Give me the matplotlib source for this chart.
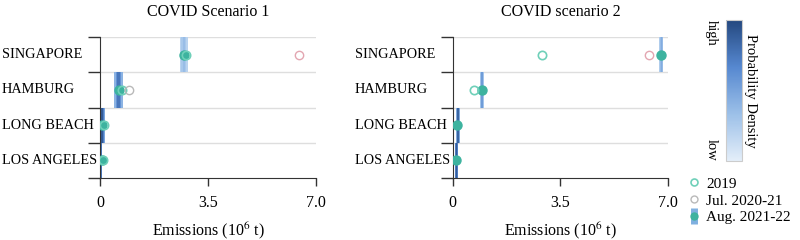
import numpy as np
import matplotlib
matplotlib.use('Agg')
import matplotlib.pyplot as plt
from matplotlib.colors import LinearSegmentedColormap, Normalize
from matplotlib.lines import Line2D
from matplotlib.colorbar import ColorbarBase

plt.rcParams['font.family'] = ['Liberation Serif', 'DejaVu Serif']
plt.rcParams['mathtext.fontset'] = 'stix'

nan = np.nan
ports = ['SINGAPORE', 'HAMBURG', 'LONG BEACH', 'LOS ANGELES']
titles = ['COVID Scenario 1', 'COVID scenario 2']
xticks = [0, 3.5, 7.0]
xticklabels = ['0', '3.5', '7.0']

# scenario 1
s1_2019 = [2.80, 0.70, 0.12, 0.10]
s1_jul = [6.45, 0.95, nan, nan]
s1_aug = [2.72, 0.60, 0.07, 0.05]
s1_strip_center = [2.72, 0.60, 0.07, 0.03]
s1_strip_half = [0.12, 0.14, 0.08, 0.04]
s1_strip_level = [0.35, 0.75, 0.9, 0.95]

# scenario 2
s2_2019 = [2.89, 0.68, nan, nan]
s2_jul = [6.39, nan, nan, nan]
s2_aug = [6.77, 0.95, 0.13, 0.11]
s2_strip_center = [6.78, 0.95, 0.17, 0.12]
s2_strip_half = [0.07, 0.07, 0.07, 0.05]
s2_strip_level = [0.45, 0.55, 0.85, 0.9]

cmap = LinearSegmentedColormap.from_list('pd', ['#e4eef9', '#9cc0e8', '#5688d0', '#24487f'])
teal = '#3db39f'
teal_light = '#6fd0b9'
pink = '#e3a6b1'
gray = '#b9b9b9'

fig = plt.figure(figsize=(8, 2.4), dpi=100)
axes = [fig.add_axes([0.125, 0.258, 0.27, 0.588]),
        fig.add_axes([0.566, 0.258, 0.269, 0.588])]

scen = [
    (s1_2019, s1_jul, s1_aug, s1_strip_center, s1_strip_half, s1_strip_level, [pink, gray, gray, gray]),
    (s2_2019, s2_jul, s2_aug, s2_strip_center, s2_strip_half, s2_strip_level, [pink, gray, gray, gray]),
]

ypos = np.arange(len(ports))[::-1]

for ax, title, (v19, vjul, vaug, sc, sh, sl, julc) in zip(axes, titles, scen):
    # density strips: nested rectangles, darker towards the centre
    for y, c, h, lv in zip(ypos, sc, sh, sl):
        for frac, k in [(1.0, 0.55), (0.66, 0.8), (0.33, 1.0)]:
            ax.barh(y, 2 * h * frac, left=c - h * frac, height=1.0,
                    color=cmap(lv * k), linewidth=0, zorder=2)
    ax.plot(vaug, ypos, 'o', color=teal, markersize=6.5, zorder=4)
    ax.plot(v19, ypos, 'o', mfc='none', mec=teal_light, mew=1.2, markersize=6, zorder=5)
    for y, v, c in zip(ypos, vjul, julc):
        ax.plot(v, y, 'o', mfc='none', mec=c, mew=1.0, markersize=6, zorder=5)

    ax.set_xlim(0, 7.0)
    ax.set_ylim(-0.5, 3.5)
    ax.set_xticks(xticks)
    ax.set_xticklabels(xticklabels, fontsize=11.5)
    ax.set_yticks([-0.5, 0.5, 1.5, 2.5, 3.5])
    ax.set_yticklabels([])
    ax.tick_params(axis='y', length=9, width=1, color='#333333')
    ax.tick_params(axis='x', length=6, width=1, color='#333333', pad=6)
    for yb in [0.5, 1.5, 2.5, 3.5]:
        ax.axhline(yb, color='#dedede', lw=1, zorder=1)
    for sp in ['top', 'right']:
        ax.spines[sp].set_visible(False)
    ax.spines['left'].set_color('#333333')
    ax.spines['bottom'].set_color('#333333')
    for y, name in zip(ypos, ports):
        ax.text(-0.455, y, name, transform=ax.get_yaxis_transform(), ha='left',
                va='center', fontsize=10.3)
    ax.set_title(title, fontsize=11.5, pad=15)
    ax.set_xlabel('Emissions (10$^{6}$ t)', fontsize=11.5, labelpad=7)

# colourbar
cax = fig.add_axes([0.9075, 0.329, 0.02, 0.5875])
cb = ColorbarBase(cax, cmap=cmap, norm=Normalize(0, 1), orientation='vertical')
cb.set_ticks([])
cb.outline.set_edgecolor('#cccccc')
cax.text(1.5, 0.5, 'Probability Density', transform=cax.transAxes, rotation=-90,
         ha='center', va='center', fontsize=10.5)
cax.text(-0.9, 1.0, 'high', transform=cax.transAxes, rotation=-90,
         ha='center', va='top', fontsize=10.5)
cax.text(-0.9, 0.0, 'low', transform=cax.transAxes, rotation=-90,
         ha='center', va='bottom', fontsize=10.5)

# legend
h19 = Line2D([], [], ls='none', marker='o', mfc='none', mec=teal_light, mew=1.2, markersize=5)
hjul = Line2D([], [], ls='none', marker='o', mfc='none', mec=gray, mew=1.0, markersize=5)
hbar = Line2D([], [], ls='none', marker='|', color='#7fb0e0', markersize=12, mew=5)
haug = Line2D([], [], ls='none', marker='o', color=teal, markersize=5)
fig.legend([h19, hjul, (hbar, haug)], ['2019', 'Jul. 2020-21', 'Aug. 2021-22'],
           loc='upper left', bbox_to_anchor=(0.86, 0.262), frameon=False,
           fontsize=11, handlelength=0.8, handletextpad=0.4, labelspacing=0.2,
           borderaxespad=0, borderpad=0)

fig.savefig('out.png', dpi=100)
